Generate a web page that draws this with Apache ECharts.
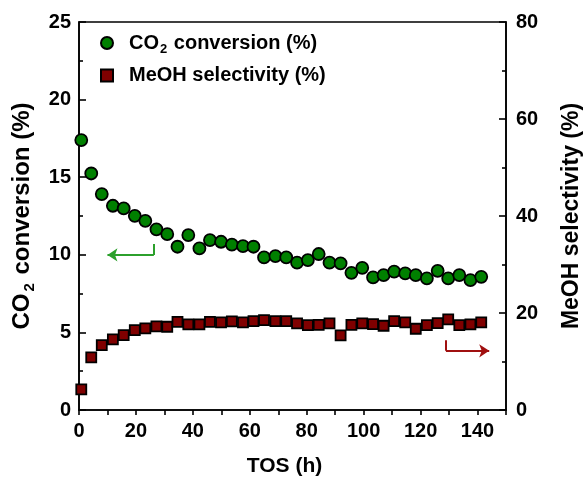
<!DOCTYPE html>
<html>
<head>
<meta charset="utf-8">
<script src="https://cdn.jsdelivr.net/npm/echarts@6/dist/echarts.min.js"></script>
<style>html,body{margin:0;padding:0;background:#fff;}#c{width:585px;height:485px;}</style>
</head>
<body>
<div id="c"></div>
<script>
const tosHours = [0.8, 4.3, 8.0, 11.9, 15.7, 19.6, 23.3, 27.2, 31.0, 34.6, 38.4, 42.3, 46.0, 49.9, 53.7, 57.6, 61.3, 65.0, 69.0, 72.8, 76.6, 80.4, 84.2, 88.0, 91.9, 95.7, 99.5, 103.3, 107.0, 110.7, 114.6, 118.3, 122.2, 126.0, 129.7, 133.6, 137.5, 141.3];
const co2Conversion = [17.39, 15.24, 13.91, 13.16, 12.99, 12.51, 12.19, 11.64, 11.33, 10.52, 11.27, 10.41, 10.95, 10.84, 10.66, 10.56, 10.52, 9.83, 9.92, 9.83, 9.49, 9.66, 10.05, 9.49, 9.45, 8.84, 9.16, 8.54, 8.69, 8.91, 8.80, 8.69, 8.48, 8.97, 8.48, 8.69, 8.37, 8.58];
const meohSelectivity = [4.26, 10.86, 13.39, 14.57, 15.45, 16.48, 16.83, 17.24, 17.16, 18.19, 17.66, 17.66, 18.19, 18.07, 18.27, 18.07, 18.34, 18.54, 18.34, 18.34, 17.86, 17.51, 17.57, 17.86, 15.39, 17.57, 17.86, 17.72, 17.37, 18.34, 18.07, 16.75, 17.51, 17.92, 18.69, 17.51, 17.66, 18.07];
const xLabels = [0, 20, 40, 60, 80, 100, 120, 140];
const leftLabels = [0, 5, 10, 15, 20, 25];
const rightLabels = [0, 20, 40, 60, 80];
// arrow annotations (data coordinates)
const greenArrow = {x0: 26.3, yTop: 10.7, yBot: 9.99, xEnd: 10.0};
const redArrow = {x0: 128.9, yTop: 14.4, yBot: 12.2, xEnd: 144.1};

const FONT = 'Liberation Sans, Arial, sans-serif';
const chart = echarts.init(document.getElementById('c'), null, {renderer: 'canvas'});
const pair = (a, b) => a.map((v, i) => [v, b[i]]);
const axisLine = {show: true, onZero: false, lineStyle: {color: '#000', width: 1.6}};
const subRich = {
  n: {fontFamily: FONT, fontWeight: 'bold', fontSize: 20, color: '#000'},
  s: {fontFamily: FONT, fontWeight: 'bold', fontSize: 13, color: '#000', padding: [12, 1, 0, 1]}
};
const titleRich = {
  n: {fontFamily: FONT, fontWeight: 'bold', fontSize: 24, color: '#000'},
  s: {fontFamily: FONT, fontWeight: 'bold', fontSize: 15, color: '#000', padding: [15, 2, 0, 2]}
};

chart.setOption({
  animation: false,
  backgroundColor: '#fff',
  grid: {left: 79, right: 79, top: 22, bottom: 75, outerBoundsMode: 'none', containLabel: false,
    show: true, borderColor: '#000', borderWidth: 1.6, backgroundColor: 'transparent'},
  legend: {
    orient: 'vertical', left: 95, top: 28, itemWidth: 12, itemHeight: 12, itemGap: 10,
    data: [{name: 'CO2', icon: 'circle'}, {name: 'MeOH', icon: 'rect'}],
    formatter: function (name) {
      return name === 'CO2' ? '{n|CO}{s|2}{n| conversion (%)}' : '{n|MeOH selectivity (%)}';
    },
    textStyle: {fontFamily: FONT, fontWeight: 'bold', fontSize: 20, color: '#000', lineHeight: 20, padding: [0, 0, 0, 11], rich: subRich}
  },
  xAxis: {
    type: 'value', min: 0, max: 150, interval: 10,
    name: 'TOS (h)', nameLocation: 'middle', nameGap: 46,
    nameTextStyle: {fontFamily: FONT, fontWeight: 'bold', fontSize: 21, color: '#000', padding: [0, 16, 0, 0]},
    axisLine: axisLine,
    axisTick: {show: true, inside: false, length: 5, lineStyle: {color: '#000', width: 1.6}},
    axisLabel: {
      margin: 11, fontFamily: FONT, fontWeight: 'bold', fontSize: 20, color: '#000',
      formatter: v => xLabels.indexOf(v) >= 0 ? String(v) : ''
    },
    splitLine: {show: false}
  },
  yAxis: [{
    type: 'value', min: 0, max: 25, interval: 5, position: 'left',
    name: '{n|CO}{s|2}{n| conversion (%)}', nameLocation: 'middle', nameGap: 38, nameRotate: 90,
    nameTextStyle: {rich: titleRich},
    axisLine: axisLine,
    axisTick: {show: true, inside: true, length: 7, lineStyle: {color: '#000', width: 1.6}},
    minorTick: {show: true, splitNumber: 2, length: 4, lineStyle: {color: '#000', width: 1.6}},
    axisLabel: {margin: 8, fontFamily: FONT, fontWeight: 'bold', fontSize: 20, color: '#000',
      formatter: v => leftLabels.indexOf(v) >= 0 ? String(v) : ''},
    splitLine: {show: false}
  }, {
    type: 'value', min: 0, max: 80, interval: 20, position: 'right',
    name: 'MeOH selectivity (%)', nameLocation: 'middle', nameGap: 54, nameRotate: 90,
    nameTextStyle: {fontFamily: FONT, fontWeight: 'bold', fontSize: 23, color: '#000'},
    axisLine: axisLine,
    axisTick: {show: true, inside: true, length: 7, lineStyle: {color: '#000', width: 1.6}},
    minorTick: {show: true, splitNumber: 2, length: 4, lineStyle: {color: '#000', width: 1.6}},
    axisLabel: {margin: 10, fontFamily: FONT, fontWeight: 'bold', fontSize: 20, color: '#000',
      formatter: v => rightLabels.indexOf(v) >= 0 ? String(v) : ''},
    splitLine: {show: false}
  }],
  series: [{
    name: 'CO2', type: 'scatter', yAxisIndex: 0, symbol: 'circle', symbolSize: 12,
    itemStyle: {color: '#008000', borderColor: '#000', borderWidth: 1.8, opacity: 1},
    data: pair(tosHours, co2Conversion), z: 3,
    markLine: {
      silent: true, symbolSize: [10, 10], label: {show: false},
      lineStyle: {color: '#2ca02c', width: 2, type: 'solid'},
      data: [
        [{coord: [greenArrow.x0, greenArrow.yTop], symbol: 'none'}, {coord: [greenArrow.x0, greenArrow.yBot], symbol: 'none'}],
        [{coord: [greenArrow.x0, greenArrow.yBot], symbol: 'none'}, {coord: [greenArrow.xEnd, greenArrow.yBot], symbol: 'arrow'}]
      ]
    }
  }, {
    name: 'MeOH', type: 'scatter', yAxisIndex: 1, symbol: 'rect', symbolSize: 10,
    itemStyle: {color: '#800000', borderColor: '#000', borderWidth: 1.8, opacity: 1},
    data: pair(tosHours, meohSelectivity), z: 3,
    markLine: {
      silent: true, symbolSize: [10, 10], label: {show: false},
      lineStyle: {color: '#a01010', width: 2, type: 'solid'},
      data: [
        [{coord: [redArrow.x0, redArrow.yTop], symbol: 'none'}, {coord: [redArrow.x0, redArrow.yBot], symbol: 'none'}],
        [{coord: [redArrow.x0, redArrow.yBot], symbol: 'none'}, {coord: [redArrow.xEnd, redArrow.yBot], symbol: 'arrow'}]
      ]
    }
  }]
});
</script>
</body>
</html>
